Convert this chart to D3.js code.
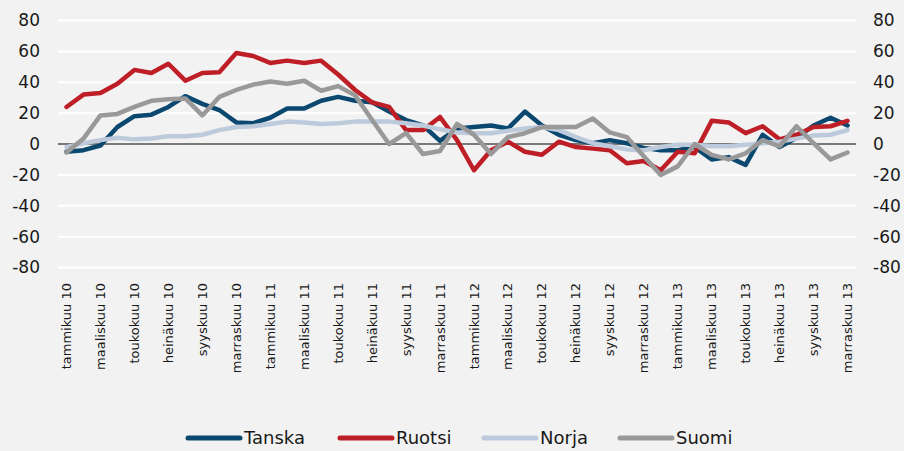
<!DOCTYPE html>
<html>
<head>
<meta charset="utf-8">
<script src="https://cdn.jsdelivr.net/npm/d3@7"></script>
<style>
  html, body { margin: 0; padding: 0; background: #f2f2f2; }
  svg { display: block; font-family: "DejaVu Sans", sans-serif; }
</style>
</head>
<body>
<svg id="chart"></svg>
<script>
const width = 904;
const height = 451;

// kuukaudet tammikuu 10 - marraskuu 13
const monthNames = ["tammikuu", "helmikuu", "maaliskuu", "huhtikuu", "toukokuu", "kesäkuu",
  "heinäkuu", "elokuu", "syyskuu", "lokakuu", "marraskuu", "joulukuu"];
const years = ["10", "11", "12", "13"];
const months = [];
years.forEach(y => monthNames.forEach(m => months.push(m + " " + y)));
months.splice(47); // viimeinen: marraskuu 13

const yTicks = [-80, -60, -40, -20, 0, 20, 40, 60, 80];

const tanska = [-5, -4, -1, 11, 18, 19, 24, 31, 26, 22, 14, 13.5, 17, 23, 23, 28, 30.5, 28, 27, 21,
  15.5, 12, 2, 10, 11, 12, 10, 21, 12, 6, 2.5, 0.5, 2.5, 0.5, -2.5, -4, -4, -2, -10, -8.5,
  -13.5, 6, -2, 4, 12, 17, 12];
const ruotsi = [24, 32, 33, 39, 48, 46, 52, 41, 46, 46.5, 59, 57, 52.5, 54, 52.5, 54, 45, 35, 27, 24,
  9, 9, 17.5, 2.5, -17, -4, 1.5, -5, -7, 1.5, -2, -3, -4, -12.5, -11, -17, -5, -6, 15, 14,
  7, 11.5, 3, 6, 11, 11.5, 15];
const norja = [-2, 0.5, 2.5, 4, 3, 3.5, 5, 5, 6, 9, 11, 11.5, 13, 14.5, 14, 13, 13.5, 14.5, 14.5, 14.5,
  13.5, 12, 9.5, 7.5, 7, 7, 8.5, 10, 11, 9, 4.5, 0.5, -1.5, -3.5, -4, -2, -0.5, -0.5, -1.5, -1.5,
  -0.5, 0.5, 1.5, 3.5, 5.5, 6, 9];
const suomi = [-5.5, 3.5, 18.5, 19.5, 24, 28, 29, 29.5, 18.5, 30.5, 35, 38.5, 40.5, 39, 41, 34.5, 37.5, 31.5, 15.5, 0,
  7, -6.5, -4.5, 13, 6, -6.5, 4.5, 7, 11, 11, 11, 16.5, 7.5, 4.5, -8, -20, -14.5, 0, -7, -10,
  -6, 2.5, -1.5, 11.5, 0.5, -10, -5.5];

const series = [
  { name: "Tanska", values: tanska, color: "#0b4870" },
  { name: "Ruotsi", values: ruotsi, color: "#be1e26" },
  { name: "Norja", values: norja, color: "#bccadb" },
  { name: "Suomi", values: suomi, color: "#999999" }
];

const svg = d3.select("#chart").attr("width", width).attr("height", height);

const x = d3.scaleBand().domain(months).range([58, 856]);
const y = d3.scaleLinear().domain([-80, 80]).range([267.5, 20.5]);
const cx = m => x(m) + x.bandwidth() / 2;

// ruudukko
svg.append("g")
  .selectAll("line")
  .data(yTicks)
  .enter()
  .append("line")
  .attr("x1", 58)
  .attr("x2", 856)
  .attr("y1", d => y(d))
  .attr("y2", d => y(d))
  .attr("stroke", d => d === 0 ? "#000" : "#fff")
  .attr("stroke-width", d => d === 0 ? 1.2 : 2);

// y-akselit molemmin puolin (tavallinen tavuviiva miinuksena)
const fmt = d => String(d);
const leftAxis = svg.append("g")
  .attr("transform", "translate(40,0)")
  .call(d3.axisLeft(y).tickValues(yTicks).tickFormat(fmt).tickSize(0).tickPadding(0));
const rightAxis = svg.append("g")
  .attr("transform", "translate(873,0)")
  .call(d3.axisRight(y).tickValues(yTicks).tickFormat(fmt).tickSize(0).tickPadding(0));
[leftAxis, rightAxis].forEach(a => {
  a.select(".domain").remove();
  a.selectAll("text").attr("font-size", 17).attr("fill", "#1a1a1a").attr("font-family", "DejaVu Sans");
});

// x-akseli, joka toinen kuukausi
const xAxis = svg.append("g")
  .attr("transform", "translate(0,283)")
  .call(d3.axisBottom(x).tickValues(months.filter((m, i) => i % 2 === 0)).tickSize(0).tickPadding(0));
xAxis.select(".domain").remove();
xAxis.selectAll("text")
  .attr("font-size", 13)
  .attr("font-family", "DejaVu Sans")
  .attr("fill", "#1a1a1a")
  .attr("transform", "rotate(-90)")
  .attr("text-anchor", "end")
  .attr("x", 0)
  .attr("y", 0)
  .attr("dy", "0.35em");

// viivat
const line = d3.line()
  .x((d, i) => cx(months[i]))
  .y(d => y(d));

svg.append("g")
  .selectAll("path")
  .data(series)
  .enter()
  .append("path")
  .attr("d", d => line(d.values))
  .attr("fill", "none")
  .attr("stroke", d => d.color)
  .attr("stroke-width", 4.5)
  .attr("stroke-linejoin", "round")
  .attr("stroke-linecap", "round");

// selite
const legendX = [186, 338, 482, 618];
const legend = svg.append("g")
  .selectAll("g")
  .data(series)
  .enter()
  .append("g")
  .attr("transform", (d, i) => `translate(${legendX[i]},438)`);

legend.append("line")
  .attr("x1", 2)
  .attr("x2", 54)
  .attr("stroke", d => d.color)
  .attr("stroke-width", 5)
  .attr("stroke-linecap", "round");

legend.append("text")
  .attr("x", 58)
  .attr("dy", "0.35em")
  .attr("font-size", 18)
  .attr("fill", "#1a1a1a")
  .text(d => d.name);
</script>
</body>
</html>
